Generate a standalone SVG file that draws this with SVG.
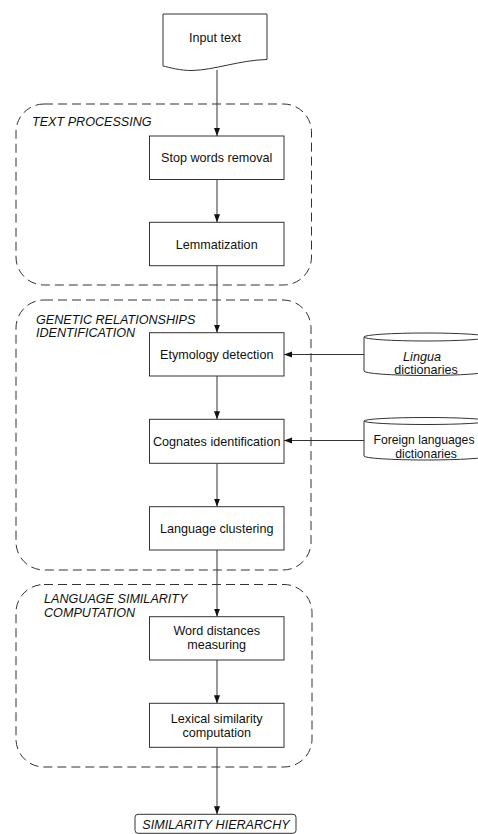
<svg xmlns="http://www.w3.org/2000/svg" width="478" height="834" viewBox="0 0 478 834">
<style>
text{font-family:"Liberation Sans",Arial,sans-serif;font-size:12.6px;fill:#111}
.c{text-anchor:middle}
.i{font-style:italic}
.s{font-size:12.2px}
.box{fill:#fff;stroke:#333;stroke-width:1}
.grp{fill:none;stroke:#333;stroke-width:1;stroke-dasharray:9 5}
.con{fill:none;stroke:#333;stroke-width:1}
</style>
<defs>
<marker id="ah" viewBox="0 0 8 8" refX="8" refY="4" markerWidth="8" markerHeight="8" markerUnits="userSpaceOnUse" orient="auto">
<path d="M0,1 L8,4 L0,7 Z" fill="#111"/>
</marker>
</defs>
<g id="groups">
<g id="text-processing">
<rect class="grp" x="16" y="104" width="295.5" height="181" rx="28" ry="28"/>
<text class="i" x="32" y="126">TEXT PROCESSING</text>
</g>
<g id="genetic-relationships">
<rect class="grp" x="16" y="300" width="295" height="270" rx="28" ry="28"/>
<text class="i" x="36" y="324">GENETIC RELATIONSHIPS</text>
<text class="i" x="36" y="337">IDENTIFICATION</text>
</g>
<g id="language-similarity">
<rect class="grp" x="16" y="584.5" width="296" height="182.5" rx="28" ry="28"/>
<text class="i" x="44" y="603">LANGUAGE SIMILARITY</text>
<text class="i" x="44" y="617">COMPUTATION</text>
</g>
</g>
<g id="connectors">
<line class="con" x1="217" y1="70" x2="217" y2="136" marker-end="url(#ah)"/>
<line class="con" x1="217" y1="179.5" x2="217" y2="222.3" marker-end="url(#ah)"/>
<line class="con" x1="217" y1="265.7" x2="217" y2="332.7" marker-end="url(#ah)"/>
<line class="con" x1="217" y1="376" x2="217" y2="419.3" marker-end="url(#ah)"/>
<line class="con" x1="217" y1="463.3" x2="217" y2="506.7" marker-end="url(#ah)"/>
<line class="con" x1="217" y1="550" x2="217" y2="616.7" marker-end="url(#ah)"/>
<line class="con" x1="217" y1="660" x2="217" y2="703.3" marker-end="url(#ah)"/>
<line class="con" x1="217" y1="747.3" x2="217" y2="814.3" marker-end="url(#ah)"/>
<line class="con" x1="364" y1="354.5" x2="284" y2="354.5" marker-end="url(#ah)"/>
<line class="con" x1="364" y1="440.5" x2="284" y2="440.5" marker-end="url(#ah)"/>
</g>
<g id="input-text">
<path class="box" d="M163,14 H267 V59.5 C240,60 215,70 192,70.5 C180,70.7 170,67.5 163,66 Z"/>
<text class="c" x="215" y="41.5">Input text</text>
</g>
<g id="stop-words">
<rect class="box" x="149.5" y="136" width="134.5" height="43.5"/>
<text class="c" x="216.7" y="162">Stop words removal</text>
</g>
<g id="lemmatization">
<rect class="box" x="149.5" y="222.3" width="134.5" height="43.4"/>
<text class="c" x="216.7" y="248.5">Lemmatization</text>
</g>
<g id="etymology">
<rect class="box" x="149.5" y="332.7" width="134.5" height="43.3"/>
<text class="c" x="216.7" y="359">Etymology detection</text>
</g>
<g id="cognates">
<rect class="box" x="149.5" y="419.3" width="134.5" height="44"/>
<text class="c" x="216.7" y="446">Cognates identification</text>
</g>
<g id="clustering">
<rect class="box" x="149.5" y="506.7" width="134.5" height="43.3"/>
<text class="c" x="216.7" y="533">Language clustering</text>
</g>
<g id="word-distances">
<rect class="box" x="149.5" y="616.7" width="134.5" height="43.3"/>
<text class="c" x="216.7" y="635">Word distances</text>
<text class="c" x="216.7" y="648.5">measuring</text>
</g>
<g id="lexical">
<rect class="box" x="149.5" y="703.3" width="134.5" height="44"/>
<text class="c" x="216.7" y="723">Lexical similarity</text>
<text class="c" x="216.7" y="736.5">computation</text>
</g>
<g id="similarity-hierarchy">
<rect class="box" x="135" y="814.3" width="161" height="19" rx="3" ry="3"/>
<text class="c i" x="216" y="828.5">SIMILARITY HIERARCHY</text>
</g>
<g id="lingua-dict">
<path class="box" d="M364,337 A62,4 0 0 1 488,337 V371 A62,4.5 0 0 1 364,371 Z"/>
<path class="con" d="M364,337 A62,4 0 0 0 488,337"/>
<text class="c i" x="422" y="360.5">Lingua</text>
<text class="c" x="426" y="374">dictionaries</text>
</g>
<g id="foreign-dict">
<path class="box" d="M364,421 A62,3.5 0 0 1 488,421 V456 A62,4 0 0 1 364,456 Z"/>
<path class="con" d="M364,421 A62,3.5 0 0 0 488,421"/>
<text class="c s" x="424" y="444">Foreign languages</text>
<text class="c s" x="426" y="458">dictionaries</text>
</g>
</svg>
